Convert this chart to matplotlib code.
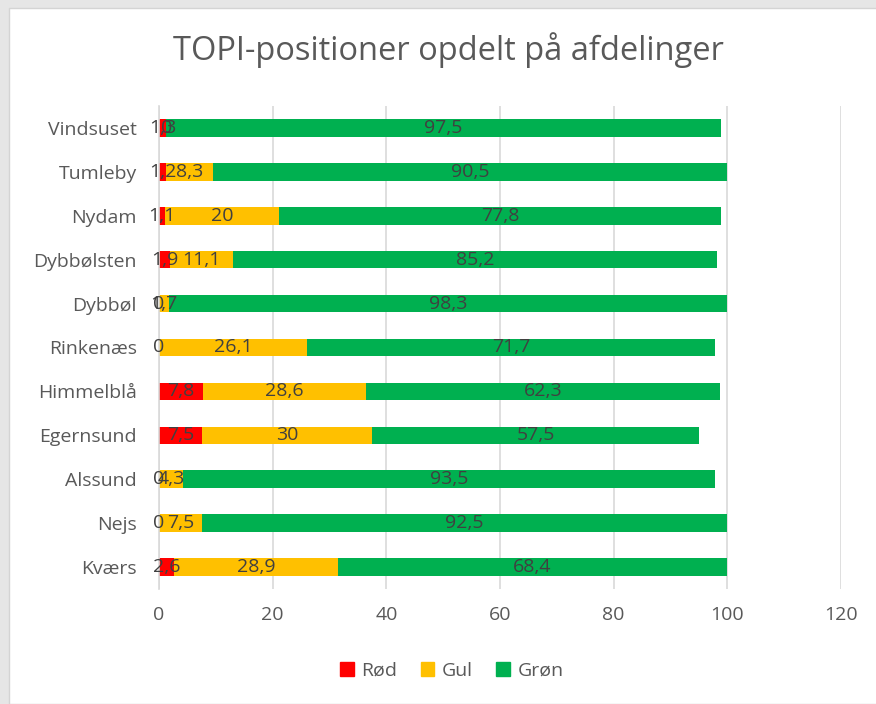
import matplotlib.pyplot as plt
import matplotlib.patches as mpatches
import numpy as np

afdelinger = ['Kværs', 'Nejs', 'Alssund', 'Egernsund', 'Himmelblå', 'Rinkenæs',
              'Dybbøl', 'Dybbølsten', 'Nydam', 'Tumleby', 'Vindsuset']
rod = [2.6, 0, 0, 7.5, 7.8, 0, 0, 1.9, 1.1, 1.2, 1.3]
gul = [28.9, 7.5, 4.3, 30, 28.6, 26.1, 1.7, 11.1, 20, 8.3, 0]
gron = [68.4, 92.5, 93.5, 57.5, 62.3, 71.7, 98.3, 85.2, 77.8, 90.5, 97.5]

series = ['Rød', 'Gul', 'Grøn']
colors = ['#ff0000', '#ffc000', '#00b050']

plt.rcParams['font.family'] = ['Open Sans', 'DejaVu Sans']
txt = '#595959'

fig = plt.figure(figsize=(8.76, 7.04), dpi=100)
fig.patch.set_facecolor('#e6e6e6')
fig.patches.append(mpatches.Rectangle((9 / 876, 0), 1, 1 - 8 / 704, transform=fig.transFigure,
                                      facecolor='white', edgecolor='#d4d4d4', lw=1, zorder=-10))

ax = fig.add_axes([159 / 876, 1 - 589 / 704, 682 / 876, 483 / 704])
ax.set_zorder(2)
ax.set_facecolor('none')

y = np.arange(len(afdelinger))
left = np.zeros(len(afdelinger))
for vals, name, col in zip([rod, gul, gron], series, colors):
    vals = np.array(vals, dtype=float)
    ax.barh(y, vals, left=left, height=0.4, color=col, label=name, zorder=2)
    for yi, l, v in zip(y, left, vals):
        lab = ('%g' % v).replace('.', ',')
        ax.text(l + v / 2, yi, lab, ha='center', va='center', fontsize=14,
                color='#404040', zorder=3)
    left = left + vals

ax.set_xlim(0, 120)
ax.set_ylim(-0.5, len(afdelinger) - 0.5)
ax.set_xticks(range(0, 121, 20))
ax.set_yticks(y)
ax.set_yticklabels(afdelinger)
ax.grid(axis='x', color='#d9d9d9', lw=1.2, zorder=0)
ax.set_axisbelow(True)
for s in ['top', 'right', 'bottom']:
    ax.spines[s].set_visible(False)
ax.spines['left'].set_color('#d9d9d9')
ax.spines['left'].set_linewidth(1.2)
ax.tick_params(axis='both', length=0, labelsize=14, colors=txt)
ax.tick_params(axis='x', pad=12)
ax.tick_params(axis='y', pad=16)

fig.text(448 / 876, 1 - 50 / 704, 'TOPI-positioner opdelt på afdelinger', ha='center', va='center',
         fontsize=23.5, color=txt)

handles = [mpatches.Patch(color=c, label=s) for s, c in zip(series, colors)]
fig.legend(handles=handles, loc='center', bbox_to_anchor=(452 / 876, 1 - 671 / 704), ncol=3,
           frameon=False, fontsize=14, labelcolor=txt, handlelength=0.7, handleheight=0.7,
           handletextpad=0.4, columnspacing=1.2)

fig.savefig('out.png', dpi=100, facecolor=fig.get_facecolor())
